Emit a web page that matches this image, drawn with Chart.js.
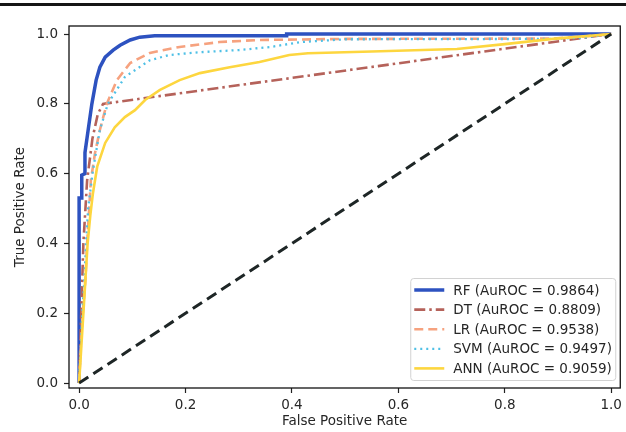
<!DOCTYPE html>
<html>
<head>
<meta charset="utf-8">
<script src="https://cdn.jsdelivr.net/npm/chart.js@4.4.0/dist/chart.umd.min.js"></script>
<style>
  html, body { margin: 0; padding: 0; background: #fff; }
  #wrap { position: relative; width: 626px; height: 432px; }
  #topRule { position: absolute; left: 0; top: 3px; width: 626px; height: 3px; background: #161616; }
  canvas { position: absolute; left: 0; top: 0; }
</style>
</head>
<body>
<div id="wrap">
  <canvas id="rocChart" width="626" height="432"></canvas>
  <div id="topRule"></div>
</div>
<script>
const models = ['RF', 'DT', 'LR', 'SVM', 'ANN'];
const aurocs = ['0.9864', '0.8809', '0.9538', '0.9497', '0.9059'];
const tickValues = [0, 0.2, 0.4, 0.6, 0.8, 1.0];

const rfFpr = [0, 0, 0.005, 0.005, 0.011, 0.011, 0.017, 0.024, 0.032, 0.039, 0.049, 0.064, 0.077, 0.096, 0.114, 0.142, 0.39, 0.39, 1];
const rfTpr = [0, 0.53, 0.53, 0.596, 0.6, 0.66, 0.725, 0.80, 0.868, 0.905, 0.934, 0.954, 0.968, 0.983, 0.991, 0.995, 0.995, 1.0, 1.0];

const dtFpr = [0, 0.004, 0.008, 0.015, 0.025, 0.035, 0.045, 1];
const dtTpr = [0, 0.2, 0.4, 0.58, 0.70, 0.77, 0.80, 1];

const lrFpr = [0, 0.003, 0.007, 0.012, 0.015, 0.019, 0.022, 0.03, 0.039, 0.052, 0.071, 0.096, 0.133, 0.189, 0.264, 0.339, 0.5, 0.89, 0.95, 1];
const lrTpr = [0, 0.1, 0.2, 0.3, 0.4, 0.5, 0.58, 0.66, 0.725, 0.80, 0.868, 0.917, 0.946, 0.963, 0.977, 0.983, 0.986, 0.987, 0.993, 1];

const svmFpr = [0, 0.003, 0.006, 0.01, 0.013, 0.017, 0.026, 0.039, 0.054, 0.086, 0.133, 0.17, 0.227, 0.30, 0.36, 0.416, 0.5, 0.89, 0.95, 1];
const svmTpr = [0, 0.1, 0.2, 0.3, 0.4, 0.5, 0.61, 0.725, 0.80, 0.877, 0.925, 0.94, 0.948, 0.954, 0.963, 0.977, 0.985, 0.986, 0.99, 1];

const annFpr = [0, 0.004, 0.008, 0.012, 0.016, 0.021, 0.026, 0.034, 0.049, 0.067, 0.086, 0.105, 0.124, 0.152, 0.189, 0.227, 0.283, 0.339, 0.395, 0.43, 0.55, 0.71, 0.80, 0.89, 1];
const annTpr = [0, 0.1, 0.2, 0.3, 0.4, 0.48, 0.544, 0.62, 0.688, 0.733, 0.762, 0.782, 0.811, 0.84, 0.868, 0.888, 0.905, 0.92, 0.94, 0.945, 0.95, 0.957, 0.971, 0.986, 1];

const chanceFpr = [0, 1];
const chanceTpr = [0, 1];

function toPoints(xs, ys) {
  return xs.map((x, i) => ({ x: x, y: ys[i] }));
}

const seriesStyle = [
  { color: '#2d52c0', width: 3.5, dash: [] },
  { color: '#b5625a', width: 2.6, dash: [11, 4, 2.5, 4] },
  { color: '#f6a27f', width: 2.6, dash: [9, 5] },
  { color: '#4fc0e6', width: 2.3, dash: [2, 4] },
  { color: '#fdd63f', width: 2.6, dash: [] }
];

const curves = [
  toPoints(rfFpr, rfTpr),
  toPoints(dtFpr, dtTpr),
  toPoints(lrFpr, lrTpr),
  toPoints(svmFpr, svmTpr),
  toPoints(annFpr, annTpr)
];

const datasets = models.map((m, i) => ({
  label: m + ' (AuROC = ' + aurocs[i] + ')',
  data: curves[i],
  borderColor: seriesStyle[i].color,
  borderWidth: seriesStyle[i].width,
  borderDash: seriesStyle[i].dash,
  pointRadius: 0,
  fill: false,
  tension: 0,
  order: 10 - i
}));

datasets.push({
  label: 'chance',
  data: toPoints(chanceFpr, chanceTpr),
  borderColor: '#1e2626',
  borderWidth: 3,
  borderDash: [11, 6],
  pointRadius: 0,
  fill: false,
  order: 0,
  skipLegend: true
});

// frame around the plot, like matplotlib spines
const framePlugin = {
  id: 'frame',
  afterDatasetsDraw(chart) {
    const a = chart.chartArea;
    const c = chart.ctx;
    c.save();
    c.strokeStyle = '#111';
    c.lineWidth = 1.3;
    c.strokeRect(a.left, a.top, a.right - a.left, a.bottom - a.top);
    c.restore();
  }
};

// legend box in lower right corner
const boxLegend = {
  id: 'boxLegend',
  afterDraw(chart) {
    const a = chart.chartArea;
    const c = chart.ctx;
    const items = chart.data.datasets.filter(d => !d.skipLegend);
    const w = 205, rowH = 19.6;
    const h = items.length * rowH + 4;
    const x0 = a.right - 5 - w;
    const y0 = a.bottom - 8 - h;
    c.save();
    c.fillStyle = 'rgba(255,255,255,0.85)';
    c.strokeStyle = '#d2d2d2';
    c.lineWidth = 1;
    c.beginPath();
    c.roundRect(x0 + 0.5, y0 + 0.5, w, h, 3);
    c.fill();
    c.stroke();
    c.font = '13.5px "DejaVu Sans"';
    c.textBaseline = 'middle';
    c.fillStyle = '#262626';
    items.forEach((d, i) => {
      const cy = y0 + 12 + i * rowH;
      c.strokeStyle = d.borderColor;
      c.lineWidth = d.borderWidth;
      c.setLineDash(d.borderDash);
      c.beginPath();
      c.moveTo(x0 + 4, cy);
      c.lineTo(x0 + 34, cy);
      c.stroke();
      c.setLineDash([]);
      c.fillText(d.label, x0 + 43, cy + 1);
    });
    c.restore();
  }
};

function fixedTicks(scale) {
  scale.ticks = tickValues.map(v => ({ value: v }));
}

const ctx = document.getElementById('rocChart').getContext('2d');

const rocChart = new Chart(ctx, {
  type: 'line',
  data: { datasets: datasets },
  options: {
    responsive: false,
    animation: false,
    layout: { padding: { top: 26, right: 3, left: 0, bottom: 0 } },
    plugins: {
      legend: { display: false },
      tooltip: { enabled: false }
    },
    scales: {
      x: {
        type: 'linear',
        min: -0.019,
        max: 1.017,
        afterBuildTicks: fixedTicks,
        afterFit(scale) { scale.height = 44; },
        grid: { drawOnChartArea: false, drawTicks: true, tickLength: 5, tickColor: '#222', tickWidth: 1.2 },
        border: { display: false },
        ticks: {
          color: '#262626',
          font: { family: 'DejaVu Sans', size: 13.5 },
          padding: 4,
          maxRotation: 0,
          callback: v => v.toFixed(1)
        },
        title: {
          display: true,
          text: 'False Positive Rate',
          color: '#262626',
          font: { family: 'DejaVu Sans', size: 13.5 },
          padding: { top: 0, bottom: 2 }
        }
      },
      y: {
        type: 'linear',
        min: -0.014,
        max: 1.023,
        afterBuildTicks: fixedTicks,
        afterFit(scale) { scale.width = 69; },
        grid: { drawOnChartArea: false, drawTicks: true, tickLength: 5, tickColor: '#222', tickWidth: 1.2 },
        border: { display: false },
        ticks: {
          color: '#262626',
          font: { family: 'DejaVu Sans', size: 13.5 },
          padding: 6,
          callback: v => v.toFixed(1)
        },
        title: {
          display: true,
          text: 'True Positive Rate',
          color: '#262626',
          font: { family: 'DejaVu Sans', size: 13.5 },
          padding: { top: 12, bottom: 0 }
        }
      }
    }
  },
  plugins: [framePlugin, boxLegend]
});
</script>
</body>
</html>
